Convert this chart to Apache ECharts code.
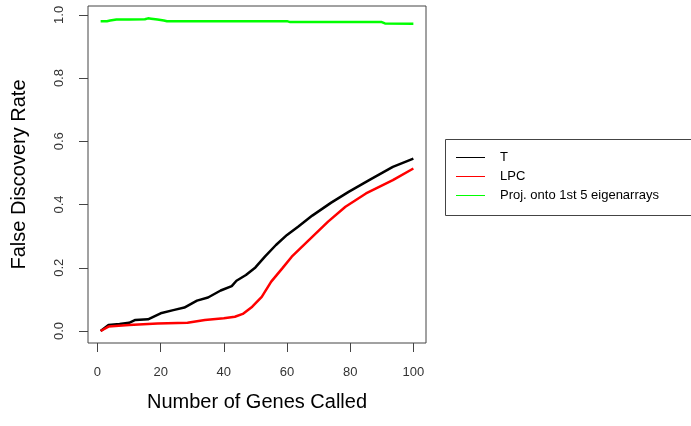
<!DOCTYPE html>
<html><head><meta charset="utf-8">
<script src="https://cdn.jsdelivr.net/npm/echarts@6/dist/echarts.min.js"></script>
<style>html,body{margin:0;padding:0;background:#fff}#c{width:691px;height:426px}</style>
</head><body><div id="c"></div>
<script>
// Data
var seriesNames = ['T', 'LPC', 'Proj. onto 1st 5 eigenarrays'];
var tX = [1, 3.5, 7, 10, 12, 16, 20, 24, 27.5, 31.5, 35, 39, 42.5, 44, 47, 50, 53, 56.5, 60, 63.5, 68, 74, 79.5, 86, 93.5, 100];
var tY = [0, 0.019, 0.022, 0.026, 0.035, 0.037, 0.056, 0.066, 0.074, 0.096, 0.106, 0.128, 0.142, 0.159, 0.177, 0.201, 0.235, 0.272, 0.304, 0.330, 0.365, 0.406, 0.440, 0.477, 0.519, 0.545];
var lX = [1, 3.5, 10, 19, 28.5, 34, 40, 43.5, 46, 49, 52, 55, 58.5, 61.5, 67, 73, 78.5, 85, 93.5, 100];
var lY = [0, 0.014, 0.019, 0.024, 0.026, 0.035, 0.040, 0.045, 0.054, 0.077, 0.108, 0.156, 0.198, 0.235, 0.288, 0.346, 0.393, 0.435, 0.477, 0.514];
var pX = [1, 3, 4, 6, 10, 15, 16, 17, 19, 21, 22, 40, 60, 61, 80, 90, 91, 100];
var pY = [0.980, 0.980, 0.982, 0.985, 0.985, 0.986, 0.989, 0.988, 0.985, 0.982, 0.980, 0.980, 0.980, 0.977, 0.977, 0.977, 0.973, 0.972];
var xTicks = [0, 20, 40, 60, 80, 100];
var yTicks = [0, 0.2, 0.4, 0.6, 0.8, 1.0];
var colors = ['#000000', '#ff0000', '#00ff00'];

function pairs(xs, ys) { return xs.map(function (x, i) { return [x, ys[i]]; }); }

var FONT = 'Liberation Sans, Arial, Helvetica, sans-serif';
var chart = echarts.init(document.getElementById('c'), null, { renderer: 'canvas' });
chart.setOption({
  backgroundColor: '#ffffff',
  animation: false,
  textStyle: { fontFamily: FONT },
  grid: { left: 88, right: 265, top: 6, bottom: 83, show: true, borderColor: '#444', borderWidth: 1, backgroundColor: 'transparent' },
  xAxis: {
    type: 'value', min: -3, max: 104,
    axisLine: { show: false, onZero: false },
    splitLine: { show: false },
    axisTick: { show: true, inside: false, length: 9, customValues: xTicks, lineStyle: { color: '#444' } },
    axisLabel: { customValues: xTicks, margin: 23, fontSize: 13, color: '#333', fontFamily: FONT },
    name: 'Number of Genes Called', nameLocation: 'middle', nameGap: 49,
    nameTextStyle: { fontSize: 20, color: '#000', fontFamily: FONT }
  },
  yAxis: {
    type: 'value', min: -0.038, max: 1.028,
    axisLine: { show: false, onZero: false },
    splitLine: { show: false },
    axisTick: { show: true, length: 9, customValues: yTicks, lineStyle: { color: '#444' } },
    axisLabel: { customValues: yTicks, rotate: 90, margin: 22, fontSize: 13, color: '#333', fontFamily: FONT,
      formatter: function (v) { return v.toFixed(1); } },
    name: 'False Discovery Rate', nameLocation: 'middle', nameGap: 59, nameRotate: 90,
    nameTextStyle: { fontSize: 20, color: '#000', fontFamily: FONT }
  },
  legend: {
    orient: 'vertical', left: 451, top: 146,
    data: seriesNames,
    icon: 'rect', itemWidth: 29, itemHeight: 1, itemGap: 6,
    textStyle: { fontSize: 13, color: '#000', fontFamily: FONT, padding: [0, 0, 0, 10] },
    selectedMode: false
  },
  graphic: [{ type: 'rect', left: 443, top: 137, shape: { width: 300, height: 76 },
    style: { fill: 'none', stroke: '#444', lineWidth: 1 }, silent: true }],
  series: [
    { name: seriesNames[0], type: 'line', data: pairs(tX, tY), showSymbol: false, lineStyle: { width: 2.5, color: colors[0] }, itemStyle: { color: colors[0] } },
    { name: seriesNames[1], type: 'line', data: pairs(lX, lY), showSymbol: false, lineStyle: { width: 2.5, color: colors[1] }, itemStyle: { color: colors[1] } },
    { name: seriesNames[2], type: 'line', data: pairs(pX, pY), showSymbol: false, lineStyle: { width: 2.5, color: colors[2] }, itemStyle: { color: colors[2] } }
  ]
});
</script></body></html>
